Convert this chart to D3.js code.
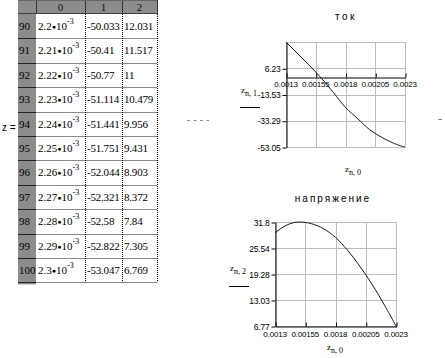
<!DOCTYPE html>
<html><head><meta charset="utf-8">
<script src="https://cdn.jsdelivr.net/npm/d3@7"></script>
<style>
html,body{margin:0;padding:0;background:#fff;}
svg{display:block;}
</style></head>
<body>
<svg id="c" width="445" height="358"></svg>
<script>
// ---- data ----
// table rows (Mathcad matrix z, rows 90..100)
const tblIndex = [90, 91, 92, 93, 94, 95, 96, 97, 98, 99, 100];
const tblX = [0.0022, 0.00221, 0.00222, 0.00223, 0.00224, 0.00225, 0.00226, 0.00227, 0.00228, 0.00229, 0.0023];
const tblCur = [-50.033, -50.41, -50.77, -51.114, -51.441, -51.751, -52.044, -52.321, -52.58, -52.822, -53.047];
const tblVolt = [12.031, 11.517, 11, 10.479, 9.956, 9.431, 8.903, 8.372, 7.84, 7.305, 6.769];
const colHeaders = ["0", "1", "2"];
// values for the earlier part of the range
const readX = [0.0013, 0.0014, 0.0015, 0.0016, 0.0017, 0.0018, 0.0019, 0.002, 0.0021];
const readCur = [26.0, 17.0, 8.0, -1.5, -12.2, -23.3, -31.5, -39.8, -45.5];
const readVolt = [29.2, 31.1, 31.8, 31.4, 30.2, 28.1, 25.0, 21.2, 16.9];
// axes
const xTicks = [0.0013, 0.00155, 0.0018, 0.00205, 0.0023];
const xTickLabels = ["0.0013", "0.00155", "0.0018", "0.00205", "0.0023"];
const curDomain = [-53.05, 25.99];
const curTicks = [-53.05, -33.29, -13.53, 6.23];
const voltDomain = [6.77, 31.8];
const voltTicks = [6.77, 13.03, 19.28, 25.54, 31.8];
const titles = ["ток", "напряжение"];

const svg = d3.select("#c");
const serif = "'Liberation Serif','Times New Roman',serif";
const sans = "'Liberation Sans',Arial,sans-serif";

// ---- table ----
const tX0 = 18, tIdxR = 36, colEdges = [36, 85, 122, 157];
const hdrH = 14, rowH = 24.4;
const rowY = d3.scaleLinear().domain([0, 1]).range([hdrH, hdrH + rowH]);
const tBottom = rowY(tblIndex.length);

const tbl = svg.append("g");
// white body
tbl.append("rect").attr("x", tIdxR).attr("y", hdrH).attr("width", colEdges[3] - tIdxR).attr("height", tBottom - hdrH).attr("fill", "#fff");
// header row
tbl.append("rect").attr("x", tX0).attr("y", 0).attr("width", colEdges[3] - tX0).attr("height", hdrH).attr("fill", "#8c8c8c");
// index column
tbl.append("rect").attr("x", tX0).attr("y", 0).attr("width", tIdxR - tX0).attr("height", tBottom + 2).attr("fill", "#8c8c8c");
// header separators
colEdges.forEach(x => tbl.append("line").attr("x1", x + 0.5).attr("x2", x + 0.5).attr("y1", 0).attr("y2", hdrH).attr("stroke", "#333").attr("stroke-width", 1));
tbl.append("line").attr("x1", tX0).attr("x2", colEdges[3]).attr("y1", hdrH - 0.5).attr("y2", hdrH - 0.5).attr("stroke", "#444");
tbl.append("line").attr("x1", tX0).attr("x2", colEdges[3]).attr("y1", 0.5).attr("y2", 0.5).attr("stroke", "#666");
colHeaders.forEach((h, i) => {
  tbl.append("text").attr("x", (colEdges[i] + colEdges[i + 1]) / 2).attr("y", 11)
    .attr("text-anchor", "middle").attr("font-family", serif).attr("font-size", 11).attr("fill", "#111").text(h);
});
// row lines
tblIndex.forEach((r, i) => {
  const yb = Math.round(rowY(i + 1)) + 0.5;
  tbl.append("line").attr("x1", tIdxR).attr("x2", colEdges[3]).attr("y1", yb).attr("y2", yb).attr("stroke", "#8a8a8a");
  tbl.append("line").attr("x1", tX0).attr("x2", tIdxR).attr("y1", yb).attr("y2", yb).attr("stroke", "#222");
});
// dotted column separators
[colEdges[1], colEdges[2], colEdges[3]].forEach(x => {
  tbl.append("line").attr("x1", x + 0.5).attr("x2", x + 0.5).attr("y1", hdrH).attr("y2", tBottom)
    .attr("stroke", "#000").attr("stroke-dasharray", "1,1");
});
// cell text
tblIndex.forEach((r, i) => {
  const by = rowY(i) + 16;
  tbl.append("text").attr("x", 19).attr("y", by).attr("font-family", serif).attr("font-size", 11).attr("fill", "#000").text(r);
  const t = tbl.append("text").attr("x", 38).attr("y", by).attr("font-family", serif).attr("font-size", 11).attr("fill", "#000");
  const mant = String(+(tblX[i] * 1e3).toFixed(2));
  t.append("tspan").text(mant);
  t.append("tspan").attr("font-size", 7).attr("font-family", sans).attr("dy", -1).text("\u25CF");
  t.append("tspan").attr("dy", 1).text("10");
  t.append("tspan").attr("font-size", 8).attr("dy", -6).text("-3");
  tbl.append("text").attr("x", 87).attr("y", by).attr("font-family", serif).attr("font-size", 11).attr("letter-spacing", -0.2).attr("fill", "#000").text(String(tblCur[i]));
  tbl.append("text").attr("x", 124).attr("y", by).attr("font-family", serif).attr("font-size", 11).attr("letter-spacing", -0.2).attr("fill", "#000").text(String(tblVolt[i]));
});
svg.append("text").attr("x", 2).attr("y", 131).attr("font-family", sans).attr("font-size", 10).attr("fill", "#000").text("z =");

// dashes
svg.append("line").attr("x1", 187).attr("x2", 209).attr("y1", 120.5).attr("y2", 120.5).attr("stroke", "#888").attr("stroke-dasharray", "3,3.5");
svg.append("line").attr("x1", 438).attr("x2", 442).attr("y1", 119.5).attr("y2", 119.5).attr("stroke", "#888");

// ---- plots ----
const allX = readX.concat(tblX);
const curSeries = readCur.concat(tblCur);
const voltSeries = readVolt.concat(tblVolt);

function plot(cfg) {
  const g = svg.append("g");
  const x = d3.scaleLinear().domain([xTicks[0], xTicks[xTicks.length - 1]]).range([cfg.left, cfg.right]);
  const y = d3.scaleLinear().domain(cfg.domain).range([cfg.bottom, cfg.top]);
  const gridC = "#bdbdbd";
  // frame + grid
  g.append("rect").attr("x", cfg.left + 0.5).attr("y", cfg.top + 0.5).attr("width", cfg.right - cfg.left).attr("height", cfg.bottom - cfg.top)
    .attr("fill", "none").attr("stroke", gridC);
  xTicks.forEach(v => g.append("line").attr("x1", Math.round(x(v)) + 0.5).attr("x2", Math.round(x(v)) + 0.5).attr("y1", cfg.top).attr("y2", cfg.bottom).attr("stroke", gridC));
  cfg.ticks.forEach(v => g.append("line").attr("x1", cfg.left).attr("x2", cfg.right).attr("y1", Math.round(y(v)) + 0.5).attr("y2", Math.round(y(v)) + 0.5).attr("stroke", gridC));
  // y axis
  const ya = d3.axisLeft(y).tickValues(cfg.ticks).tickFormat(d => String(d)).tickSizeInner(4).tickSizeOuter(0).tickPadding(2);
  const yg = g.append("g").attr("transform", `translate(${cfg.left + 0.5},0.5)`).call(ya);
  yg.select(".domain").attr("stroke", "#000");
  yg.selectAll("text").attr("font-family", sans).attr("font-size", 8.5).attr("fill", "#000").attr("letter-spacing", -0.2);
  // x axis (at y=0 if within domain, else at bottom)
  const y0 = (cfg.domain[0] < 0 && cfg.domain[1] > 0) ? Math.round(y(0)) : cfg.bottom;
  const xa = d3.axisTop(x).tickValues(xTicks).tickFormat("").tickSizeInner(4).tickSizeOuter(0);
  const xg = g.append("g").attr("transform", `translate(0.5,${y0 + 0.5})`).call(xa);
  xg.select(".domain").attr("stroke", "#000");
  xg.selectAll("line").attr("stroke", "#000");
  xTicks.forEach((v, i) => g.append("text").attr("x", x(v)).attr("y", y0 + cfg.xlabOff).attr("text-anchor", "middle")
    .attr("font-family", sans).attr("font-size", 8).attr("letter-spacing", -0.2).attr("fill", "#000").text(xTickLabels[i]));
  // curve
  const line = d3.line().x((d, i) => x(allX[i])).y(d => y(d)).curve(d3.curveMonotoneX);
  g.append("path").attr("d", line(cfg.series)).attr("fill", "none").attr("stroke", "#000").attr("stroke-width", 0.9);
  // title
  g.append("text").attr("x", cfg.titleX).attr("y", cfg.titleY).attr("text-anchor", "middle").attr("font-family", sans)
    .attr("font-size", 10).attr("letter-spacing", cfg.titleLS).attr("fill", "#000").text(cfg.title);
  // y label
  const yl = g.append("text").attr("x", cfg.ylab[0]).attr("y", cfg.ylab[1]).attr("font-family", serif).attr("font-size", 9).attr("fill", "#000");
  yl.append("tspan").text("z");
  yl.append("tspan").attr("dy", 3).attr("font-size", 8).text("n, " + cfg.col);
  g.append("line").attr("x1", cfg.ylab[0] - 1).attr("x2", cfg.ylab[0] + 19).attr("y1", cfg.ylab[2] + 0.5).attr("y2", cfg.ylab[2] + 0.5).attr("stroke", "#000");
  // x label
  const xl = g.append("text").attr("x", cfg.xlab[0]).attr("y", cfg.xlab[1]).attr("font-family", serif).attr("font-size", 9).attr("fill", "#000");
  xl.append("tspan").text("z");
  xl.append("tspan").attr("dy", 3).attr("font-size", 8).text("n, 0");
}

plot({left: 286, right: 405, top: 42, bottom: 147, domain: curDomain, ticks: curTicks, series: curSeries,
  xlabOff: 10, title: titles[0], titleX: 346, titleY: 20, titleLS: 2.5, col: 1, ylab: [241, 93, 107], xlab: [345, 172]});
plot({left: 275, right: 396, top: 222, bottom: 326, domain: voltDomain, ticks: voltTicks, series: voltSeries,
  xlabOff: 11, title: titles[1], titleX: 333, titleY: 202, titleLS: 2, col: 2, ylab: [230, 271, 286], xlab: [327, 350]});
</script>
</body></html>
